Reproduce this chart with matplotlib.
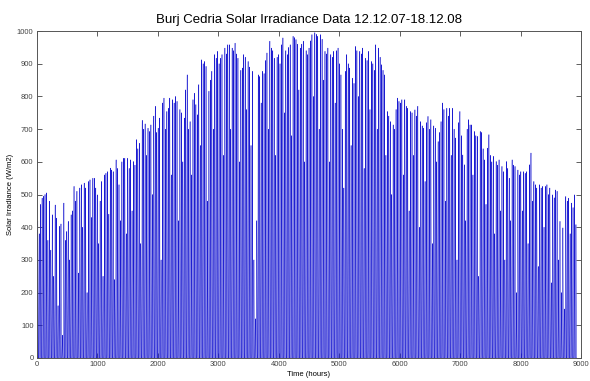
import numpy as np
import matplotlib
matplotlib.use('Agg')
import matplotlib.pyplot as plt

# Daily peak irradiance (W/m2), one value per day from 12.12.07
daily_peak = [
    419, 380, 470, 489, 495, 500, 505, 360, 480, 330,
    438, 250, 468, 428, 160, 403, 410, 70, 474, 360,
    387, 418, 300, 438, 450, 525, 480, 510, 260, 520,
    530, 400, 535, 520, 200, 540, 545, 430, 550, 550,
    520, 499, 350, 480, 540, 250, 560, 565, 570, 440,
    581, 575, 570, 240, 606, 580, 530, 420, 600, 611,
    611, 380, 611, 580, 606, 450, 601, 590, 668, 640,
    657, 350, 727, 700, 716, 620, 703, 693, 713, 500,
    740, 770, 690, 703, 734, 300, 780, 795, 700, 754,
    764, 795, 560, 790, 780, 800, 785, 420, 760, 750,
    600, 734, 820, 866, 700, 723, 560, 790, 810, 775,
    744, 836, 650, 912, 900, 907, 892, 480, 816, 850,
    877, 700, 928, 917, 938, 900, 917, 928, 620, 948,
    930, 958, 958, 700, 948, 940, 963, 930, 917, 600,
    880, 887, 928, 920, 760, 907, 890, 650, 877, 300,
    120, 420, 866, 861, 780, 877, 870, 910, 933, 700,
    969, 948, 940, 917, 620, 920, 928, 900, 958, 979,
    750, 940, 928, 950, 958, 680, 984, 980, 974, 960,
    820, 948, 960, 969, 600, 940, 928, 948, 970, 989,
    800, 995, 990, 984, 700, 989, 975, 850, 938, 930,
    948, 600, 928, 920, 938, 780, 940, 948, 900, 866,
    700, 520, 877, 928, 900, 887, 650, 856, 840, 953,
    940, 800, 938, 930, 948, 580, 917, 910, 938, 760,
    907, 900, 880, 958, 700, 948, 920, 897, 880, 866,
    620, 754, 740, 723, 500, 713, 700, 760, 795, 785,
    780, 790, 560, 790, 770, 764, 450, 754, 750, 620,
    759, 740, 770, 400, 723, 710, 703, 540, 720, 739,
    700, 729, 350, 710, 703, 600, 662, 690, 723, 780,
    760, 480, 764, 740, 764, 620, 764, 700, 673, 300,
    720, 754, 680, 621, 591, 420, 700, 729, 713, 713,
    560, 693, 680, 678, 250, 693, 690, 640, 606, 470,
    642, 683, 620, 600, 617, 380, 601, 590, 606, 450,
    586, 570, 300, 601, 580, 550, 420, 606, 590, 586,
    200, 575, 560, 570, 450, 570, 565, 570, 350, 591,
    627, 480, 540, 530, 520, 280, 530, 520, 525, 400,
    525, 530, 500, 520, 230, 499, 490, 514, 510, 300,
    418, 200, 398, 150, 494, 480, 489, 380, 474, 460,
    499, 408,
]

# Typical shape of one day, fraction of the daily peak for hours 0..23
hour_shape = [0, 0, 0, 0, 0, 0, 0.02, 0.12, 0.32, 0.55, 0.75, 0.9,
              0.98, 1.0, 0.93, 0.78, 0.57, 0.33, 0.12, 0.02, 0, 0, 0, 0]

irradiance = np.outer(daily_peak, hour_shape).ravel()
hours = np.arange(len(irradiance))

plt.rcParams['font.family'] = ['Liberation Sans', 'DejaVu Sans']

fig = plt.figure(figsize=(5.9, 3.81), dpi=100)
ax = fig.add_axes([0.0627, 0.0604, 0.922, 0.8582])
ax.plot(hours, irradiance, color='#1515d0', linewidth=0.35)

ax.set_xlim(0, 9000)
ax.set_ylim(0, 1000)
ax.set_xticks(np.arange(0, 9001, 1000))
ax.set_yticks(np.arange(0, 1001, 100))
ax.tick_params(direction='in', length=3.5, width=0.6, colors='#444444',
               labelsize=5.5, top=True, right=True, pad=2.5)
for s in ax.spines.values():
    s.set_color('#555555')
    s.set_linewidth(0.7)

ax.set_title('Burj Cedria Solar Irradiance Data 12.12.07-18.12.08',
             fontsize=9.5, pad=6)
ax.set_xlabel('Time (hours)', fontsize=5.5, labelpad=2)
ax.set_ylabel('Solar Irradiance (W/m2)', fontsize=5.5, labelpad=2)

fig.savefig('out.png', dpi=100)
